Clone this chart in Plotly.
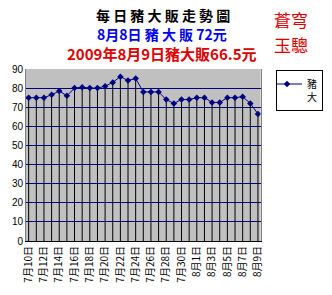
import plotly.graph_objects as go

dates = ["7月10日","7月11日","7月12日","7月13日","7月14日","7月15日","7月16日","7月17日",
         "7月18日","7月19日","7月20日","7月21日","7月22日","7月23日","7月24日","7月25日",
         "7月26日","7月27日","7月28日","7月29日","7月30日","7月31日","8月1日","8月2日",
         "8月3日","8月4日","8月5日","8月6日","8月7日","8月8日","8月9日"]
prices = [75, 75, 75, 76.5, 78.5, 76, 80, 80.5, 80, 80, 81, 83, 86, 84, 85, 78,
          78, 78, 74, 72, 74, 74, 75, 75, 72.5, 72.5, 75, 75, 75.5, 72, 66.5]
yticks = [0, 10, 20, 30, 40, 50, 60, 70, 80, 90]
series_name = "豬<br>大"

xi = list(range(len(dates)))
tickidx = xi[::2]

cjk = "Noto Sans CJK TC"

fig = go.Figure()
fig.add_trace(go.Scatter(
    x=xi, y=prices, mode="lines+markers", name=series_name,
    line=dict(color="#000080", width=1),
    marker=dict(symbol="diamond", size=5, color="#000080"),
    error_y=dict(type="data", symmetric=False, array=[0]*len(prices),
                 arrayminus=prices, width=0, thickness=1, color="black"),
))

fig.update_layout(
    width=332, height=295,
    margin=dict(l=20, r=60, t=69, b=46),
    paper_bgcolor="white", plot_bgcolor="#C0C0C0",
    font=dict(family=cjk, size=10, color="black"),
    showlegend=True,
    legend=dict(xref="container", yref="container", x=276/332, y=1-70/295,
                xanchor="left", yanchor="top", bordercolor="black", borderwidth=1,
                bgcolor="white", font=dict(family=cjk, size=10), valign="top",
                itemwidth=30, tracegroupgap=0, indentation=-10),
)
fig.update_xaxes(range=[-0.35, len(dates) - 0.65], tickmode="array", tickvals=tickidx,
                 ticktext=[dates[i] for i in tickidx], tickangle=-90, showgrid=False,
                 zeroline=False, showline=True, linecolor="black", mirror=False,
                 ticks="", tickfont=dict(size=10, family=cjk))
fig.update_yaxes(range=[0, 90], tickvals=yticks, showgrid=True, gridcolor="#000080",
                 gridwidth=1, zeroline=False, showline=True, linecolor="#808080",
                 mirror=True, ticks="", tickfont=dict(size=10, family="Arial, Liberation Sans"))

def ann(text, x, y, size, color, bold=True):
    fig.add_annotation(text=("<b>%s</b>" % text) if bold else text, xref="paper", yref="paper",
                       x=x, y=y, showarrow=False, xanchor="center", yanchor="middle",
                       font=dict(family=cjk, size=size, color=color), borderpad=0)

def px(xp, yp):
    # convert pixel position to paper coords
    return (xp - 20) / 252, (249 - yp) / 180

x, y = px(167, 12); ann("每 日 豬 大 販 走 勢 圖", x, y, 14, "black")
x, y = px(166, 32); ann("8月8日 豬 大 販 72元", x, y, 14, "#0000EE")
x, y = px(166, 53); ann("2009年8月9日豬大販66.5元", x, y, 15, "#DD0000")
x, y = px(305, 17); ann("蒼穹", x, y, 17, "#E00000", bold=False)
x, y = px(305, 43); ann("玉驄", x, y, 17, "#E00000", bold=False)

fig.write_html("out.html")
